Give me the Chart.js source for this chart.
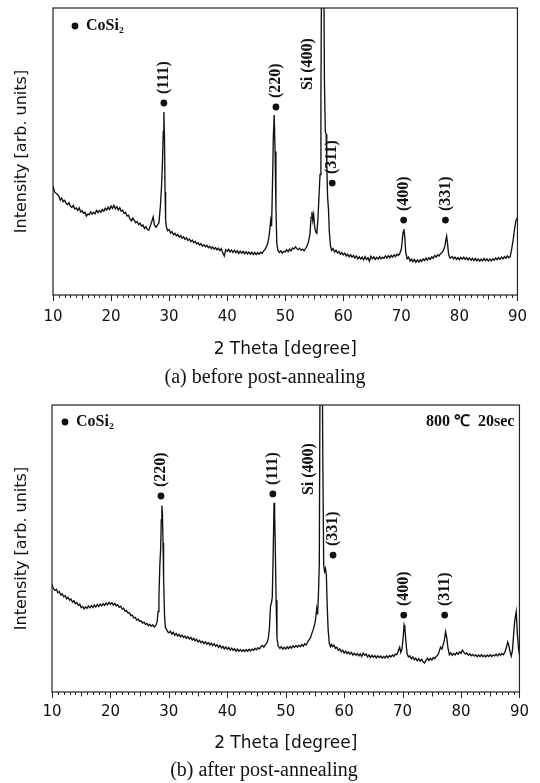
<!DOCTYPE html>
<html>
<head>
<meta charset="utf-8">
<script src="https://cdn.jsdelivr.net/npm/chart.js@4.4.1/dist/chart.umd.min.js"></script>
<style>
  html, body { margin: 0; padding: 0; background: #fff; }
  canvas { display: block; }
</style>
</head>
<body>
<canvas id="xrdBefore" width="540" height="391"></canvas>
<canvas id="xrdAfter" width="540" height="392"></canvas>
<script>
// XRD scans, [2theta, intensity (arb. units, 100 = top of frame)]
const scanBefore = [
  [10.00,38],[10.25,36],[10.50,35.5],[10.75,35],[11.00,34.5],[11.25,33],[11.50,33.8],[11.75,32.5],
  [12.00,33],[12.25,32],[12.50,31.5],[12.75,32.2],[13.00,31],[13.25,30.5],[13.50,31.2],[13.75,30],
  [14.00,30.3],[14.25,29.5],[14.50,30.4],[14.75,29],[15.00,29.4],[15.25,28.5],[15.50,28.8],[15.75,27.5],
  [16.00,28.2],[16.25,28],[16.50,29],[16.75,28.2],[17.00,28.8],[17.25,28.3],[17.50,29.5],[17.75,28.7],
  [18.00,29.4],[18.25,28.8],[18.50,29.8],[18.75,29.2],[19.00,30.2],[19.25,29.6],[19.50,30.6],[19.75,29.8],
  [20.00,31],[20.25,30.2],[20.50,31.2],[20.75,30],[21.00,30.8],[21.25,29.6],[21.50,30.4],[21.75,29.2],
  [22.00,29.5],[22.25,28.4],[22.50,28.8],[22.75,27.5],[23.00,27.8],[23.25,26.5],[23.50,25.8],[23.75,26.8],
  [24.00,26],[24.25,25.2],[24.50,25.6],[24.75,24.5],[25.00,25],[25.25,24],[25.50,24.4],[25.75,23.2],
  [26.00,23.8],[26.25,22.8],[26.50,22.6],[26.75,24],[27.00,25.5],[27.25,27.2],[27.50,24.2],[27.75,23.6],
  [28.00,24.4],[28.25,25.2],[28.50,31],[28.70,38],[28.85,46],[29.00,57],[29.10,63.8],[29.20,55],
  [29.30,36],[29.40,26],[29.55,23.6],[29.75,22.4],[30.00,22.8],[30.25,21.6],[30.50,22.1],[30.75,21],
  [31.00,21.5],[31.25,20.6],[31.50,21.1],[31.75,20.2],[32.00,20.7],[32.25,19.8],[32.50,20.3],[32.75,19.4],
  [33.00,19.9],[33.25,19],[33.50,19.5],[33.75,18.6],[34.00,19.1],[34.25,18.2],[34.50,18.7],[34.75,17.8],
  [35.00,18.2],[35.25,17.4],[35.50,17.9],[35.75,17],[36.00,17.5],[36.25,16.8],[36.50,17.3],[36.75,16.5],
  [37.00,17],[37.25,16.2],[37.50,16.8],[37.75,16],[38.00,16.5],[38.25,15.7],[38.50,16.3],[38.75,15.5],
  [39.00,16.1],[39.25,14.6],[39.50,13.6],[39.75,15.8],[40.00,15.2],[40.25,15.9],[40.50,15],[40.75,15.7],
  [41.00,14.8],[41.25,15.6],[41.50,14.7],[41.75,15.4],[42.00,14.5],[42.25,15.3],[42.50,14.6],[42.75,15.2],
  [43.00,14.4],[43.25,15.1],[43.50,14.3],[43.75,15],[44.00,14.2],[44.25,14.9],[44.50,14.1],[44.75,14.8],
  [45.00,14.1],[45.25,14.7],[45.50,14.2],[45.75,14.9],[46.00,14.5],[46.25,15.3],[46.50,15.8],[46.75,16.8],
  [47.00,18],[47.25,21],[47.50,26],[47.65,24],[47.80,38],[47.95,55],[48.10,62.7],[48.25,50],
  [48.40,30],[48.55,18],[48.75,15.5],[49.00,14.8],[49.25,15.4],[49.50,14.6],[49.75,15.2],[50.00,15],
  [50.25,15.8],[50.50,15.1],[50.75,16],[51.00,15.4],[51.25,16.4],[51.50,16],[51.75,16.8],[52.00,16.2],
  [52.25,15.8],[52.50,16.3],[52.75,15.6],[53.00,16],[53.25,15.4],[53.50,16.2],[53.75,17],[54.00,18.5],
  [54.25,21],[54.45,27],[54.60,29],[54.75,26],[54.90,28],[55.05,24],[55.25,22],[55.45,21.5],
  [55.65,27],[55.85,36],[56.00,42],[56.15,70],[56.30,130],[56.45,105],[56.60,130],[56.75,75],
  [56.90,57],[57.05,56],[57.15,46],[57.30,34],[57.45,30],[57.60,22],[57.80,17],[58.00,15.5],
  [58.25,16.2],[58.50,15],[58.75,15.6],[59.00,14.6],[59.25,15.2],[59.50,14.2],[59.75,14.8],[60.00,14],
  [60.25,14.6],[60.50,13.6],[60.75,14.2],[61.00,13.3],[61.25,14],[61.50,13.2],[61.75,13.8],[62.00,12.9],
  [62.25,13.6],[62.50,12.6],[62.75,13.3],[63.00,12.5],[63.25,13.2],[63.50,12.2],[63.75,13.4],[64.00,12.4],
  [64.25,13],[64.50,11.8],[64.75,13.5],[65.00,12.6],[65.25,13.3],[65.50,12.4],[65.75,13.1],[66.00,12.5],
  [66.25,13.4],[66.50,12.6],[66.75,13.2],[67.00,12.8],[67.25,13.6],[67.50,12.9],[67.75,13.7],[68.00,13],
  [68.25,13.8],[68.50,13.2],[68.75,14],[69.00,13.4],[69.25,14.2],[69.50,13.8],[69.75,14.6],[70.00,16],
  [70.15,19],[70.30,22],[70.45,23],[70.60,20],[70.75,15],[71.00,12.6],[71.25,13.2],[71.50,11.8],
  [71.75,12.5],[72.00,11.6],[72.25,12.4],[72.50,11.4],[72.75,12.2],[73.00,11.5],[73.25,12.3],[73.50,11.7],
  [73.75,12.6],[74.00,12],[74.25,12.8],[74.50,12.2],[74.75,13],[75.00,12.4],[75.25,13.3],[75.50,12.8],
  [75.75,13.8],[76.00,13.2],[76.25,14],[76.50,13.6],[76.75,14.4],[77.00,14.8],[77.25,15.5],[77.50,17],
  [77.65,19],[77.80,20.5],[77.95,18],[78.15,14],[78.40,12.8],[78.75,13.4],[79.00,12.6],[79.25,13.2],
  [79.50,12.4],[79.75,13],[80.00,12.3],[80.25,13.1],[80.50,12.5],[80.75,13.2],[81.00,12.4],[81.25,13],
  [81.50,12.2],[81.75,12.9],[82.00,12.1],[82.25,12.8],[82.50,12],[82.75,12.7],[83.00,11.9],[83.25,12.6],
  [83.50,11.8],[83.75,12.5],[84.00,11.9],[84.25,12.7],[84.50,12],[84.75,12.6],[85.00,11.8],[85.25,12.5],
  [85.50,11.9],[85.75,12.6],[86.00,12.1],[86.25,12.9],[86.50,12.3],[86.75,13],[87.00,12.4],[87.25,13.2],
  [87.50,12.6],[87.75,13.4],[88.00,12.8],[88.25,13.6],[88.50,13],[88.75,13.4],[89.00,16],[89.25,19],
  [89.50,23],[89.75,26],[90.00,27]
];

const scanAfter = [
  [10.00,37.5],[10.25,36],[10.50,35.4],[10.75,35.8],[11.00,34.6],[11.25,35],[11.50,33.8],[11.75,34.2],
  [12.00,33.2],[12.25,33.6],[12.50,32.5],[12.75,33],[13.00,32],[13.25,32.4],[13.50,31.3],[13.75,31.8],
  [14.00,30.8],[14.25,31.2],[14.50,30.2],[14.75,30.6],[15.00,29.4],[15.25,29.8],[15.50,29],[15.75,29.6],
  [16.00,29.2],[16.25,30],[16.50,29.3],[16.75,30.1],[17.00,29.4],[17.25,30.3],[17.50,29.6],[17.75,30.5],
  [18.00,29.8],[18.25,30.6],[18.50,30],[18.75,30.8],[19.00,30.2],[19.25,31],[19.50,30.4],[19.75,31.2],
  [20.00,30.6],[20.25,31.1],[20.50,30.3],[20.75,30.9],[21.00,30],[21.25,30.4],[21.50,29.5],[21.75,29.9],
  [22.00,28.9],[22.25,29.2],[22.50,28.2],[22.75,28.4],[23.00,27.5],[23.25,27.6],[23.50,26.6],[23.75,26.8],
  [24.00,25.8],[24.25,26],[24.50,25.1],[24.75,25.4],[25.00,24.6],[25.25,24.8],[25.50,24],[25.75,24.3],
  [26.00,23.5],[26.25,23.9],[26.50,23.1],[26.75,23.6],[27.00,22.9],[27.25,23.4],[27.50,22.6],[27.75,23.2],
  [28.00,24.5],[28.15,28],[28.30,33],[28.45,44],[28.60,50],[28.70,60],[28.80,65],[28.90,62],
  [29.00,52],[29.10,40],[29.25,27],[29.40,22.5],[29.60,21.8],[29.80,21],[30.00,20.6],[30.25,21.2],
  [30.50,20.2],[30.75,20.8],[31.00,19.8],[31.25,20.4],[31.50,19.5],[31.75,20.1],[32.00,19.2],[32.25,19.8],
  [32.50,19],[32.75,19.5],[33.00,18.7],[33.25,19.3],[33.50,18.5],[33.75,19],[34.00,18.1],[34.25,18.7],
  [34.50,17.8],[34.75,18.4],[35.00,17.4],[35.25,18],[35.50,17.2],[35.75,17.7],[36.00,16.9],[36.25,17.5],
  [36.50,16.7],[36.75,17.2],[37.00,16.4],[37.25,17],[37.50,16.2],[37.75,16.8],[38.00,15.9],[38.25,16.5],
  [38.50,15.6],[38.75,16.2],[39.00,15.3],[39.25,15.9],[39.50,15],[39.75,15.7],[40.00,14.9],[40.25,15.5],
  [40.50,14.6],[40.75,15.3],[41.00,14.5],[41.25,15.1],[41.50,14.2],[41.75,14.9],[42.00,14.2],[42.25,14.8],
  [42.50,14.1],[42.75,14.7],[43.00,14.1],[43.25,14.8],[43.50,14.2],[43.75,14.9],[44.00,14.3],[44.25,15],
  [44.50,14.5],[44.75,15.2],[45.00,14.7],[45.25,15.4],[45.50,15],[45.75,15.8],[46.00,16.2],[46.25,15.6],
  [46.50,16.4],[46.75,17],[47.00,18.5],[47.20,22],[47.40,30],[47.55,31],[47.70,33],[47.85,48],
  [48.00,65.9],[48.10,62],[48.20,52],[48.35,32],[48.50,19],[48.70,16],[49.00,15.2],[49.25,15.8],
  [49.50,14.9],[49.75,15.6],[50.00,15],[50.25,15.7],[50.50,15.1],[50.75,15.9],[51.00,15.3],[51.25,16.1],
  [51.50,15.5],[51.75,16.2],[52.00,15.6],[52.25,16.3],[52.50,15.8],[52.75,16.5],[53.00,16],[53.25,16.8],
  [53.50,16.4],[53.75,17.4],[54.00,18.2],[54.25,19],[54.50,20.6],[54.75,22],[55.00,24],[55.15,26],
  [55.30,29],[55.45,27],[55.60,34],[55.75,45],[55.90,130],[56.05,105],[56.20,130],[56.35,80],
  [56.50,44],[56.65,42],[56.80,43],[56.95,41],[57.10,30],[57.25,22],[57.45,17],[57.65,15.8],
  [57.85,16.6],[58.00,15.8],[58.25,16.3],[58.50,15.2],[58.75,15.6],[59.00,14.5],[59.25,15],[59.50,14],
  [59.75,14.6],[60.00,13.6],[60.25,14.2],[60.50,13.4],[60.75,14],[61.00,13.2],[61.25,13.8],[61.50,12.9],
  [61.75,13.5],[62.00,12.8],[62.25,13.4],[62.50,12.6],[62.75,13.3],[63.00,12.4],[63.25,13.6],[63.50,12.8],
  [63.75,13.2],[64.00,12.2],[64.25,12.9],[64.50,12],[64.75,12.8],[65.00,12.1],[65.25,12.7],[65.50,11.9],
  [65.75,12.6],[66.00,12],[66.25,12.5],[66.50,11.8],[66.75,12.4],[67.00,11.9],[67.25,12.6],[67.50,12],
  [67.75,12.7],[68.00,12.2],[68.25,12.9],[68.50,12.4],[68.75,13.2],[69.00,13],[69.25,14.2],[69.50,15.6],
  [69.70,13.8],[69.90,15],[70.10,19],[70.25,23.3],[70.40,22],[70.55,18],[70.75,13.5],[71.00,12.2],
  [71.25,12.6],[71.50,11.6],[71.75,12.2],[72.00,11.2],[72.25,11.8],[72.50,10.9],[72.75,11.6],[73.00,10.8],
  [73.25,11.4],[73.50,10.5],[73.75,10.1],[74.00,11],[74.25,11.8],[74.50,11],[74.75,11.7],[75.00,11.1],
  [75.25,12],[75.50,11.6],[75.75,12.4],[76.00,12.8],[76.25,14],[76.50,15.6],[76.75,15],[76.95,16.5],
  [77.15,18],[77.35,21],[77.55,19],[77.75,15.5],[78.00,13],[78.25,13.6],[78.50,12.8],[78.75,13.4],
  [79.00,12.9],[79.25,13.7],[79.50,13.2],[79.75,14],[80.00,13.5],[80.25,14.6],[80.50,13.8],[80.75,13.2],
  [81.00,13.6],[81.25,12.8],[81.50,13.3],[81.75,12.6],[82.00,13.1],[82.25,12.5],[82.50,13],[82.75,12.3],
  [83.00,12.9],[83.25,12.4],[83.50,13],[83.75,12.3],[84.00,12.8],[84.25,12.2],[84.50,12.9],[84.75,12.4],
  [85.00,13],[85.25,12.4],[85.50,12.9],[85.75,12.6],[86.00,13.2],[86.25,12.6],[86.50,13.3],[86.75,12.8],
  [87.00,13.4],[87.25,13],[87.50,13.8],[87.75,15.5],[88.00,17.4],[88.20,16],[88.40,14],[88.60,12.5],
  [88.80,14.5],[89.00,20],[89.20,25],[89.45,28],[89.65,20],[89.85,15],[90.00,13]
];

// peak labels: name, 2theta, height of the marker dot
const peakNamesBefore = ['(111)', '(220)', 'Si (400)', '(311)', '(400)', '(331)'];
const peakThetaBefore = [29.1, 48.4, 53.9, 58.1, 70.4, 77.6];
const peakLevelBefore = [66.9, 65.5, 71.4, 39, 26.1, 26.1];
const peakNamesAfter = ['(220)', '(111)', 'Si (400)', '(331)', '(400)', '(311)'];
const peakThetaAfter = [28.65, 47.8, 53.9, 58.1, 70.2, 77.2];
const peakLevelAfter = [68.3, 69, 68.6, 47.7, 26.8, 26.8];
const peakDot = [true, true, false, true, true, true];

const xTicks = [10, 20, 30, 40, 50, 60, 70, 80, 90];

const ink = '#111';

function dot(ctx, x, y) {
  ctx.beginPath();
  ctx.arc(x, y, 3.4, 0, Math.PI * 2);
  ctx.fill();
}

// frame around the plot plus minor ticks under the axis
const frameBox = {
  id: 'frameBox',
  afterDraw(chart) {
    const {ctx, chartArea: a, scales: {x}} = chart;
    ctx.save();
    ctx.strokeStyle = '#222';
    ctx.lineWidth = 1.2;
    ctx.strokeRect(a.left, a.top, a.right - a.left, a.bottom - a.top);
    ctx.lineWidth = 1;
    for (let v = x.min; v <= x.max; v++) {
      const len = v % 10 === 0 ? 6 : v % 5 === 0 ? 4.5 : 3;
      const px = Math.round(x.getPixelForValue(v)) + 0.5;
      ctx.beginPath();
      ctx.moveTo(px, a.bottom);
      ctx.lineTo(px, a.bottom + len);
      ctx.stroke();
    }
    ctx.restore();
  }
};

const peakNotes = {
  id: 'peakNotes',
  afterDatasetsDraw(chart, args, o) {
    const {ctx, chartArea: a, scales: {x, y}} = chart;
    ctx.save();
    ctx.fillStyle = ink;
    ctx.font = 'bold 16px "Liberation Serif", "Times New Roman", serif';
    ctx.textBaseline = 'middle';

    const kx = a.left + o.keyAt[0], ky = a.top + o.keyAt[1];
    dot(ctx, kx, ky);
    ctx.textAlign = 'left';
    ctx.fillText('CoSi\u2082', kx + 11, ky);
    if (o.note) {
      ctx.textAlign = 'right';
      ctx.fillText(o.note, a.right - 5, ky);
    }

    o.names.forEach((name, i) => {
      const px = x.getPixelForValue(o.theta[i]);
      let py = y.getPixelForValue(o.level[i]);
      if (peakDot[i]) {
        dot(ctx, px, py);
        py -= 9;
      }
      ctx.save();
      ctx.translate(px, py);
      ctx.rotate(-Math.PI / 2);
      ctx.textAlign = 'left';
      ctx.fillText(name, 0, 0);
      ctx.restore();
    });
    ctx.restore();
  }
};

function xrdChart(id, scan, caption, notes, box) {
  return new Chart(document.getElementById(id), {
    type: 'line',
    data: {
      datasets: [{
        data: scan.map(p => ({x: p[0], y: p[1]})),
        borderColor: ink,
        borderWidth: 1.35,
        pointRadius: 0,
        tension: 0,
        fill: false
      }]
    },
    options: {
      responsive: false,
      animation: false,
      events: [],
      layout: { padding: { top: box.top, right: box.right, left: 0, bottom: box.bottom } },
      plugins: {
        legend: { display: false },
        tooltip: { enabled: false },
        title: {
          display: true,
          position: 'bottom',
          text: caption,
          color: ink,
          padding: 0,
          font: { family: '"Liberation Serif", "Times New Roman", serif', size: 20, weight: 'normal' }
        },
        peakNotes: notes
      },
      scales: {
        x: {
          type: 'linear',
          min: 10,
          max: 90,
          afterBuildTicks: s => { s.ticks = xTicks.map(v => ({value: v})); },
          ticks: {
            padding: box.tickPad,
            maxRotation: 0,
            color: ink,
            font: { family: '"DejaVu Sans", sans-serif', size: 15 }
          },
          grid: { display: false, drawTicks: false },
          border: { display: false },
          title: {
            display: true,
            text: '2 Theta [degree]',
            color: ink,
            padding: { top: 0, bottom: box.titlePad },
            font: { family: '"DejaVu Sans", sans-serif', size: 17 }
          },
          afterFit: s => { s.height = box.xHeight; }
        },
        y: {
          min: 0,
          max: 100,
          ticks: { display: false },
          grid: { display: false, drawTicks: false },
          border: { display: false },
          title: {
            display: true,
            text: 'Intensity [arb. units]',
            color: ink,
            padding: { top: 12.4, bottom: 0 },
            font: { family: '"DejaVu Sans", sans-serif', size: 16 }
          },
          afterFit: s => { s.width = box.left; }
        }
      }
    },
    plugins: [frameBox, peakNotes]
  });
}

xrdChart('xrdBefore', scanBefore, '(a) before post-annealing',
  { names: peakNamesBefore, theta: peakThetaBefore, level: peakLevelBefore, keyAt: [22, 18] },
  { top: 8, right: 10, bottom: 1, left: 53, xHeight: 71, tickPad: 13, titlePad: 5.8 });

xrdChart('xrdAfter', scanAfter, '(b) after post-annealing',
  { names: peakNamesAfter, theta: peakThetaAfter, level: peakLevelAfter, keyAt: [13, 17], note: '800 \u2103  20sec' },
  { top: 14, right: 12, bottom: 0, left: 52, xHeight: 67, tickPad: 11, titlePad: 5.3 });
</script>
</body>
</html>
